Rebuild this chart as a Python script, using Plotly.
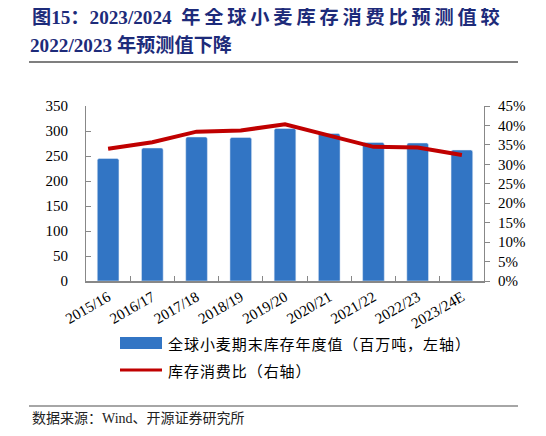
import plotly.graph_objects as go

# 全球小麦库存与库存消费比
years = ['2015/16', '2016/17', '2017/18', '2018/19', '2019/20',
         '2020/21', '2021/22', '2022/23', '2023/24E']
stocks = [245, 266, 288, 287, 305, 295, 277, 276, 262]          # 百万吨, 左轴
ratio = [0.340, 0.357, 0.384, 0.387, 0.403, 0.374, 0.345, 0.343, 0.324]  # 右轴

y_ticks = list(range(0, 351, 50))
y2_ticks = [i / 100 for i in range(0, 46, 5)]

serif = 'Liberation Serif, Noto Sans CJK SC'
navy = '#1D2B7A'
ts = '\u2009'
hs = '\u200a'

# page body adds ~8px offset; work in screen pixels and convert
OFF = 8
L, R, T, B = 86, 484, 106, 281

fig = go.Figure()
fig.add_trace(go.Bar(x=years, y=stocks, name='全球小麦期末库存年度值（百万吨，左轴）',
                     marker=dict(color='#3275C4', cornerradius=2), width=0.49))
fig.add_trace(go.Scatter(x=years, y=ratio, name='库存消费比（右轴）', yaxis='y2',
                         mode='lines', line=dict(color='#C00000', width=4)))

fig.update_layout(
    width=546, height=436,
    margin=dict(l=L - OFF, r=546 - (R - OFF), t=T - OFF, b=436 - (B - OFF)),
    plot_bgcolor='white', paper_bgcolor='white',
    showlegend=False,
    font=dict(family=serif, size=15, color='black'),
    xaxis=dict(type='category', tickangle=-30, tickson='boundaries',
               ticks='inside', ticklen=5, tickcolor='#888',
               showline=True, linecolor='#888', linewidth=1.5,
               showgrid=False, tickfont=dict(size=15)),
    yaxis=dict(range=[0, 350], tickvals=y_ticks, ticks='inside', ticklen=5,
               tickcolor='#888', showline=True, linecolor='#888', linewidth=1,
               showgrid=False, zeroline=False, ticklabelstandoff=14),
    yaxis2=dict(range=[0, 0.45], tickvals=y2_ticks, tickformat='.0%',
                overlaying='y', side='right', ticks='outside', ticklen=5,
                tickcolor='#888', showline=True, linecolor='#888', linewidth=1,
                showgrid=False, zeroline=False, ticklabelstandoff=5),
)


def px_x(v):
    return (v - L) / (R - L)


def px_y(v):
    return (B - v) / (B - T)


title1 = '图15：2023/2024  ' + ts.join('年全球小麦库存消费比预测值较')
title2 = '2022/2023 年预测值下降'
fig.add_annotation(text='<b>' + title1 + '</b>', xref='paper', yref='paper',
                   x=px_x(30), y=px_y(17), xanchor='left', yanchor='middle',
                   showarrow=False, font=dict(family=serif, size=19.2, color=navy))
fig.add_annotation(text='<b>' + title2 + '</b>', xref='paper', yref='paper',
                   x=px_x(28), y=px_y(45), xanchor='left', yanchor='middle',
                   showarrow=False, font=dict(family=serif, size=19.2, color=navy))

# header / footer rules
fig.add_shape(type='line', xref='paper', yref='paper', x0=px_x(29), x1=px_x(518),
              y0=px_y(62), y1=px_y(62), line=dict(color='#555', width=1.5))
fig.add_shape(type='line', xref='paper', yref='paper', x0=px_x(29), x1=px_x(518),
              y0=px_y(406), y1=px_y(406), line=dict(color='#888', width=1.5))

# legend drawn by hand
fig.add_shape(type='rect', xref='paper', yref='paper', x0=px_x(120), x1=px_x(162),
              y0=px_y(349), y1=px_y(337), fillcolor='#3275C4', line=dict(width=0))
fig.add_shape(type='line', xref='paper', yref='paper', x0=px_x(120), x1=px_x(162),
              y0=px_y(370), y1=px_y(370), line=dict(color='#C00000', width=3))
fig.add_annotation(text=hs.join(fig.data[0].name), xref='paper', yref='paper',
                   x=px_x(166), y=px_y(343), xanchor='left', yanchor='middle',
                   showarrow=False, font=dict(family='Noto Sans CJK SC', size=15))
fig.add_annotation(text=hs.join(fig.data[1].name), xref='paper', yref='paper',
                   x=px_x(166), y=px_y(370), xanchor='left', yanchor='middle',
                   showarrow=False, font=dict(family='Noto Sans CJK SC', size=15))

fig.add_annotation(text='数据来源：Wind、开源证券研究所', xref='paper', yref='paper',
                   x=px_x(30), y=px_y(418), xanchor='left', yanchor='middle',
                   showarrow=False, font=dict(family=serif, size=14, color='#222'))

fig.write_html('out.html')
